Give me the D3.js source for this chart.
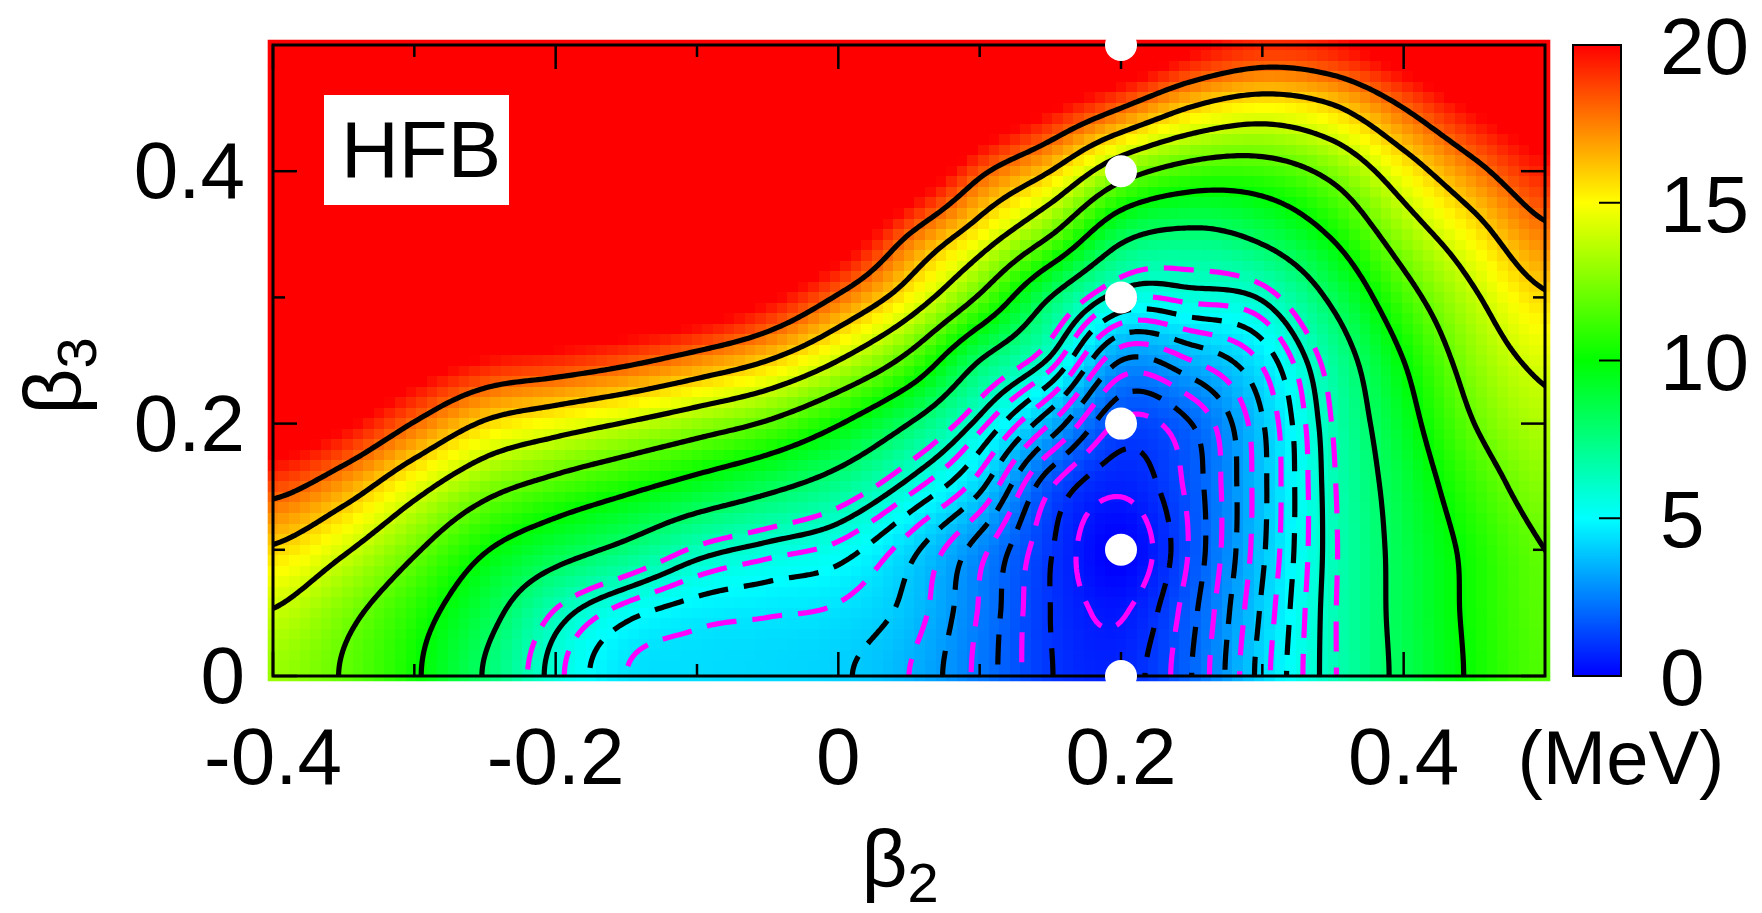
<!DOCTYPE html>
<html><head><meta charset="utf-8">
<script src="https://cdn.jsdelivr.net/npm/d3@7"></script>
<style>
body{margin:0;background:#fff;}
svg{display:block;font-family:"Liberation Sans",Arial,Helvetica,sans-serif;}
</style></head><body>
<svg id="chart" width="1762" height="913"></svg>
<script>
// ---------------- data ----------------
const beta2 = [-0.4,-0.35,-0.3,-0.25,-0.2,-0.15,-0.1,-0.05,0,0.05,0.1,0.15,0.2,0.25,0.3,0.35,0.4,0.45,0.5];
const beta3 = [0,0.05,0.1,0.15,0.2,0.25,0.3,0.35,0.4,0.45,0.5];
// energy (MeV) along beta2 for each beta3 row
const eB3_000 = [13.0,11.9,10.2,7.9,5.7,4.5,4.35,4.25,4.08,3.5,2.35,1.03,0.72,2.0,4.25,6.4,8.4,10.25,11.6];
const eB3_005 = [13.9,12.45,10.7,8.6,6.4,5.2,4.7,4.55,4.4,3.8,2.45,1.0,0.45,1.85,4.1,6.4,8.5,10.35,11.8];
const eB3_010 = [15.8,14.2,12.2,10.1,8.7,7.6,6.35,5.75,5.3,4.2,2.7,1.05,0.0,1.6,3.9,6.35,8.55,10.45,12.0];
const eB3_015 = [18.6,16.9,14.6,12.6,11.4,10.4,9.35,8.35,7.25,5.75,4.15,1.55,0.62,1.7,3.85,6.4,8.8,11.1,12.7];
const eB3_020 = [22.0,20.3,17.9,15.8,14.8,13.9,12.9,11.8,10.1,8.0,5.75,3.5,1.4,2.0,3.95,6.55,9.3,12.0,13.5];
const eB3_025 = [25.5,23.8,21.4,19.8,19.2,18.4,17.3,16.0,14.0,11.5,8.0,5.85,3.0,3.5,4.6,7.0,10.0,12.8,14.4];
const eB3_030 = [29,27,25,24,23.5,22.8,22,20.3,17.8,15.1,11.8,8.0,5.65,5.7,6.1,8.3,11.3,13.8,15.8];
const eB3_035 = [31.5,29.5,28,27.5,27,26.5,25.5,24,21.7,18.0,15.1,12.1,8.5,7.7,8.4,10.2,13.0,15.3,17.6];
const eB3_040 = [33.5,31.5,30.5,30,29.5,29,28.5,27,25.2,22.3,18.4,16.0,12.8,11.3,11.2,12.5,15.1,17.5,19.5];
const eB3_045 = [35,33,32.5,32,31.5,31,30.5,29.5,28.5,26.3,22.7,20.2,18.0,15.9,15.0,15.8,18.0,20.2,21.5];
const eB3_050 = [36,34.5,34,33.5,33,32.5,32,31.5,31,30,27,24.5,22.5,20.3,19.2,19.6,21.2,23,23.5];

const solidLevels = [6,8,10,12,14,16,18];
const blackDashedLevels = [1,2,3,4,5];
const magentaDashedLevels = [0.5,1.5,2.5,3.5,4.5,5.5,6.5];

const xMajorTicks = [-0.4,-0.2,0,0.2,0.4];
const xTickLabels = ["-0.4","-0.2","0","0.2","0.4"];
const xMinorTicks = [-0.3,-0.1,0.1,0.3];
const yMajorTicks = [0,0.2,0.4];
const yTickLabels = ["0","0.2","0.4"];
const yMinorTicks = [0.1,0.3];
const cbTicks = [0,5,10,15,20];
const cbTickLabels = ["0","5","10","15","20"];
const markerBeta2 = [0.2,0.2,0.2,0.2,0.2,0.2];
const markerBeta3 = [0,0.1,0.2,0.3,0.4,0.5];

// ---------------- layout ----------------
const rows = [eB3_000,eB3_005,eB3_010,eB3_015,eB3_020,eB3_025,eB3_030,eB3_035,eB3_040,eB3_045,eB3_050];
const svg = d3.select('#chart');
const P = {left:273,right:1545,top:45,bottom:676};
const x = d3.scaleLinear().domain([-0.4,0.5]).range([P.left,P.right]);
const y = d3.scaleLinear().domain([0,0.5]).range([P.bottom,P.top]);
const color = d3.scaleLinear().domain([0,5,10,15,20])
  .range(['#0000ff','#00ffff','#00ff00','#ffff00','#ff0000']).clamp(true);

// smooth surface through the read grid values (Catmull-Rom), mirror symmetric in beta3
const NX = beta2.length, NY = beta3.length;
const d2 = beta2[1]-beta2[0], d3s = beta3[1]-beta3[0];
function G(i,j){
  if (j<0) j=-j;
  if (j>NY-1) j=NY-1;
  if (i<0) i=0;
  if (i>NX-1) i=NX-1;
  return rows[j][i];
}
function cr(p0,p1,p2,p3,t){
  return 0.5*(2*p1 + (-p0+p2)*t + (2*p0-5*p1+4*p2-p3)*t*t + (-p0+3*p1-3*p2+p3)*t*t*t);
}
function E(b2,b3){
  const u=(b2-beta2[0])/d2, v=(b3-beta3[0])/d3s;
  const i=Math.floor(u), j=Math.floor(v), tu=u-i, tv=v-j;
  const r=[];
  for(let m=-1;m<=2;m++) r.push(cr(G(i-1,j+m),G(i,j+m),G(i+1,j+m),G(i+2,j+m),tu));
  return cr(r[0],r[1],r[2],r[3],tv);
}

// ---------------- heatmap ----------------
const nxH=121, nyH=61;
const hx=0.9/(nxH-1), hy=0.5/(nyH-1);
const cv=document.createElement('canvas'); cv.width=nxH; cv.height=nyH;
const ctx=cv.getContext('2d'); const im=ctx.createImageData(nxH,nyH);
for(let j=0;j<nyH;j++){
  const b3=0.5-j*hy;
  for(let i=0;i<nxH;i++){
    const b2=-0.4+i*hx;
    const c=d3.rgb(color(E(b2,b3)));
    const k=4*(j*nxH+i);
    im.data[k]=c.r; im.data[k+1]=c.g; im.data[k+2]=c.b; im.data[k+3]=255;
  }
}
ctx.putImageData(im,0,0);
svg.append('image')
  .attr('href',cv.toDataURL())
  .attr('x',x(-0.4-hx/2)).attr('y',y(0.5+hy/2))
  .attr('width',x(0.5+hx/2)-x(-0.4-hx/2))
  .attr('height',y(-hy/2)-y(0.5+hy/2))
  .attr('preserveAspectRatio','none')
  .style('image-rendering','pixelated');

// ---------------- contours ----------------
svg.append('clipPath').attr('id','clipPlot').append('rect')
  .attr('x',P.left).attr('y',P.top).attr('width',P.right-P.left).attr('height',P.bottom-P.top);
const fs=0.0025, gx0=-0.41, gy0=-0.01;
const nxF=Math.round((0.51-gx0)/fs)+1, nyF=Math.round((0.51-gy0)/fs)+1;
const vals=new Float64Array(nxF*nyF);
for(let j=0;j<nyF;j++) for(let i=0;i<nxF;i++) vals[j*nxF+i]=E(gx0+i*fs, gy0+j*fs);
const proj=d3.geoTransform({point(px,py){ this.stream.point(x(gx0+(px-0.5)*fs), y(gy0+(py-0.5)*fs)); }});
const path=d3.geoPath(proj);
const cgen=d3.contours().size([nxF,nyF]);
const gC=svg.append('g').attr('clip-path','url(#clipPlot)').attr('fill','none');
function drawLevels(levels,stroke,dash){
  gC.selectAll(null).data(levels.map(l=>cgen.contour(vals,l))).enter().append('path')
    .attr('d',path).attr('stroke',stroke).attr('stroke-width',5.2)
    .attr('stroke-dasharray',dash).attr('stroke-linejoin','round');
}
drawLevels(solidLevels,'#000',null);
drawLevels(blackDashedLevels,'#000','30,16');
drawLevels(magentaDashedLevels,'#ff00ff','30,16');

// ---------------- frame & ticks ----------------
const gA=svg.append('g').attr('stroke','#000').attr('stroke-width',2.5);
const ML=24, mL=12;
xMajorTicks.concat(xMinorTicks).forEach((v,k)=>{
  const L = k<xMajorTicks.length?ML:mL;
  gA.append('line').attr('x1',x(v)).attr('x2',x(v)).attr('y1',P.bottom).attr('y2',P.bottom-L);
  gA.append('line').attr('x1',x(v)).attr('x2',x(v)).attr('y1',P.top).attr('y2',P.top+L);
});
yMajorTicks.concat(yMinorTicks).forEach((v,k)=>{
  const L = k<yMajorTicks.length?ML:mL;
  gA.append('line').attr('y1',y(v)).attr('y2',y(v)).attr('x1',P.left).attr('x2',P.left+L);
  gA.append('line').attr('y1',y(v)).attr('y2',y(v)).attr('x1',P.right).attr('x2',P.right-L);
});
svg.append('rect').attr('x',P.left).attr('y',P.top).attr('width',P.right-P.left).attr('height',P.bottom-P.top)
  .attr('fill','none').attr('stroke','#000').attr('stroke-width',3);

// tick labels
const FS=80;
svg.append('g').selectAll('text').data(xMajorTicks).enter().append('text')
  .attr('x',d=>x(d)).attr('y',784).attr('text-anchor','middle').attr('font-size',FS)
  .text((d,i)=>xTickLabels[i]);
svg.append('g').selectAll('text').data(yMajorTicks).enter().append('text')
  .attr('x',245).attr('y',d=>y(d)+27).attr('text-anchor','end').attr('font-size',FS)
  .text((d,i)=>yTickLabels[i]);

// axis titles
svg.append('text').attr('x',900).attr('y',886).attr('text-anchor','middle').attr('font-size',FS)
  .text('β').append('tspan').attr('font-size',56).attr('dy',16).text('2');
svg.append('text').attr('transform','translate(80,376) rotate(-90)').attr('text-anchor','middle').attr('font-size',FS)
  .text('β').append('tspan').attr('font-size',56).attr('dy',16).text('3');

// HFB label
svg.append('rect').attr('x',324).attr('y',95).attr('width',185).attr('height',110).attr('fill','#fff');
svg.append('text').attr('x',341).attr('y',177).attr('font-size',FS).text('HFB');

// ---------------- colorbar ----------------
const cb = d3.scaleLinear().domain([0,20]).range([P.bottom,P.top]);
const CBX0=1573, CBX1=1621;
const grad=svg.append('defs').append('linearGradient').attr('id','cbgrad')
  .attr('x1',0).attr('y1',1).attr('x2',0).attr('y2',0);
cbTicks.forEach(v=>grad.append('stop').attr('offset',v/20).attr('stop-color',color(v)));
svg.append('rect').attr('x',CBX0).attr('y',cb(20)).attr('width',CBX1-CBX0).attr('height',cb(0)-cb(20))
  .attr('fill','url(#cbgrad)').attr('stroke','#000').attr('stroke-width',2);
svg.append('g').selectAll('line').data(cbTicks).enter().append('line')
  .attr('x1',CBX1).attr('x2',CBX1-22).attr('y1',d=>cb(d)).attr('y2',d=>cb(d))
  .attr('stroke','#000').attr('stroke-width',2);
svg.append('g').selectAll('text').data(cbTicks).enter().append('text')
  .attr('x',1660).attr('y',d=>cb(d)+29).attr('font-size',FS).text((d,i)=>cbTickLabels[i]);
svg.append('text').attr('x',1621).attr('y',784).attr('text-anchor','middle').attr('font-size',76).text('(MeV)');

// ---------------- markers ----------------
svg.append('g').selectAll('circle').data(markerBeta3).enter().append('circle')
  .attr('cx',(d,i)=>x(markerBeta2[i])).attr('cy',d=>y(d)).attr('r',16).attr('fill','#fff');
</script>
</body></html>
